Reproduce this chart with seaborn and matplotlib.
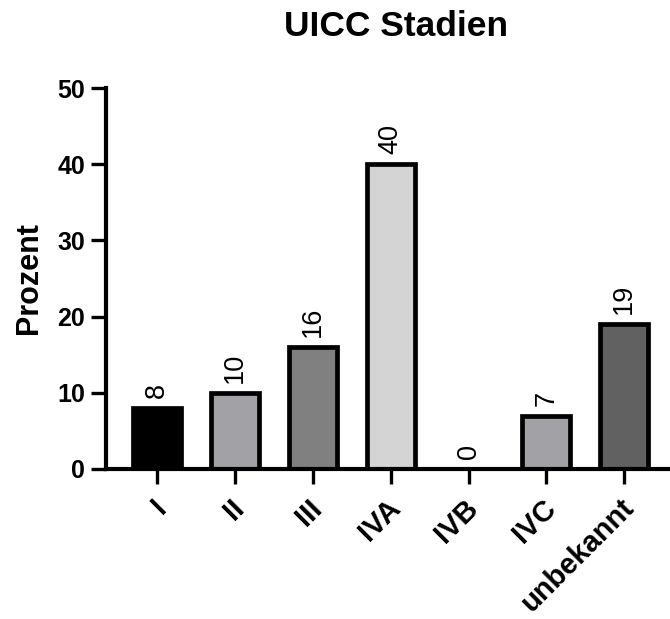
import matplotlib
matplotlib.use("Agg")
import matplotlib.pyplot as plt
import matplotlib.transforms as mtrans
import seaborn as sns
import pandas as pd

categories = ["I", "II", "III", "IVA", "IVB", "IVC", "unbekannt"]
values = [8, 10, 16, 40, 0, 7, 19]
colors = ["#000000", "#a1a1a6", "#808080", "#d4d4d4", "#a1a1a6", "#a1a1a6", "#616161"]
yticks = [0, 10, 20, 30, 40, 50]

sns.set_style("white")
plt.rcParams["font.family"] = ["Liberation Sans", "DejaVu Sans"]
plt.rcParams.update({"text.color": "black", "axes.labelcolor": "black",
                     "xtick.color": "black", "ytick.color": "black"})

df = pd.DataFrame({"Stadium": categories, "Prozent": values})

fig = plt.figure(figsize=(6.7, 6.19), dpi=100)
ax = fig.add_axes([106 / 670, 150 / 619, 564 / 670, 381 / 619])

sns.barplot(data=df, x="Stadium", y="Prozent", hue="Stadium",
            palette=dict(zip(categories, colors)), legend=False,
            width=0.615, edgecolor="black", linewidth=3.4, ax=ax, saturation=1)

for c in ax.containers:
    ax.bar_label(c, rotation=90, padding=7, fontsize=19.5, color="black")

ax.set_ylim(0, 50)
ax.set_xlim(-0.66, 6.59)
ax.set_yticks(yticks)
ax.set_xlabel("")
ax.set_ylabel("Prozent", fontsize=22, fontweight="bold")
ax.yaxis.set_label_coords(-0.11, 0.5)

fig.text(396 / 670, 1 - 27 / 619, "UICC Stadien", fontsize=25.5, fontweight="bold",
         ha="center", va="center", color="black")

for s in ["top", "right"]:
    ax.spines[s].set_visible(False)
for s in ["left", "bottom"]:
    ax.spines[s].set_linewidth(3.0)
    ax.spines[s].set_color("black")

ax.tick_params(axis="both", which="major", length=11, width=2.4, direction="out",
               labelsize=18, colors="black", bottom=True, left=True, pad=4)
for lab in ax.get_yticklabels():
    lab.set_fontweight("bold")
ax.set_xticks(range(len(categories)))
ax.set_xticklabels(categories, rotation=45, ha="right", va="center", rotation_mode="anchor",
                   fontweight="bold", fontsize=21)
offset = mtrans.ScaledTranslation(0.05, -0.14, fig.dpi_scale_trans)
for lab in ax.get_xticklabels():
    lab.set_transform(lab.get_transform() + offset)

fig.savefig("out.png", dpi=100)
